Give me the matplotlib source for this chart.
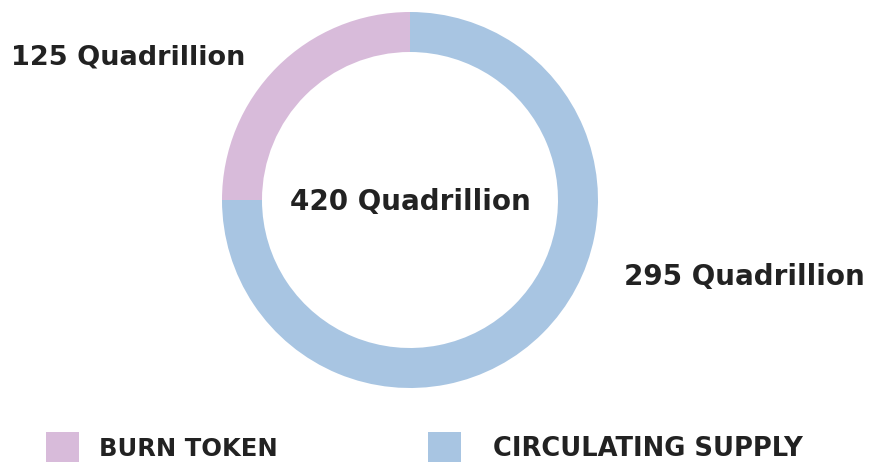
import matplotlib
matplotlib.use("Agg")
import matplotlib.pyplot as plt
from matplotlib.patches import Rectangle

categories = ["BURN TOKEN", "CIRCULATING SUPPLY"]
shares = [25, 75]  # visual proportion of the ring
value_labels = ["125 Quadrillion", "295 Quadrillion"]
total_label = "420 Quadrillion"
colors = ["#D8BBDA", "#A8C5E2"]
text_color = "#222222"

W, H = 870, 462
fig = plt.figure(figsize=(W / 100, H / 100), dpi=100)
ax = fig.add_axes([0, 0, 1, 1])

cx, cy = 410, H - 200
R = 188
ring = 40
ax.pie(shares, colors=colors, startangle=90, counterclock=True,
       center=(cx, cy), radius=R,
       wedgeprops=dict(width=ring, edgecolor="none", linewidth=0))
ax.set_xlim(0, W)
ax.set_ylim(0, H)
ax.set_aspect("auto")
ax.axis("off")

fkw = dict(family="DejaVu Sans", fontweight="bold", color=text_color)
ax.text(cx, H - 210, total_label, ha="center", va="baseline", fontsize=20, **fkw)
ax.text(11, H - 65, value_labels[0], ha="left", va="baseline", fontsize=19.5, **fkw)
ax.text(865, H - 285, value_labels[1], ha="right", va="baseline", fontsize=20, **fkw)

# legend
sq_x = [46, 428]
txt_x = [99, 493]
sizes = [17.5, 18.5]
for i, cat in enumerate(categories):
    ax.add_patch(Rectangle((sq_x[i], 0), 33, H - 432, facecolor=colors[i],
                           edgecolor="none", clip_on=False))
    ax.text(txt_x[i], H - 456, cat, ha="left", va="baseline", fontsize=sizes[i],
            **fkw)

fig.savefig("out.png", dpi=100, facecolor="white")
